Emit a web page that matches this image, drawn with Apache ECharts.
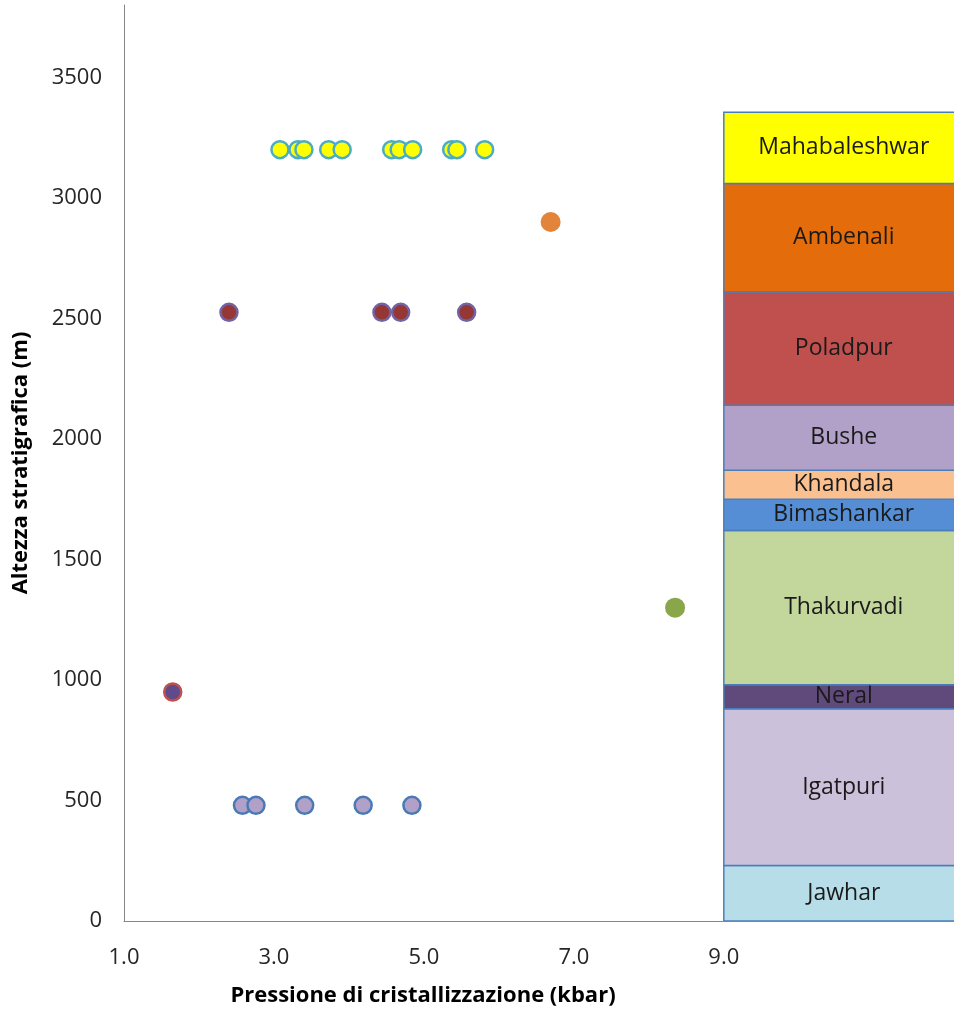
<!DOCTYPE html>
<html>
<head>
<meta charset="utf-8">
<title>Pressione di cristallizzazione vs altezza stratigrafica</title>
<script src="https://cdn.jsdelivr.net/npm/echarts@6/dist/echarts.min.js"></script>
<style>
  html, body { margin: 0; padding: 0; background: #ffffff; }
  #chart { width: 954px; height: 1012px; }
</style>
</head>
<body>
<div id="chart"></div>
<script>
// ---- data ----
const xTicks = [1, 3, 5, 7, 9];
const yTicks = [0, 500, 1000, 1500, 2000, 2500, 3000, 3500];

// crystallisation pressure (kbar) of the samples, grouped by formation; height in m
const mahabaleshwarP = [3.08, 3.32, 3.40, 3.73, 3.91, 4.57, 4.67, 4.85, 5.37, 5.44, 5.81];
const mahabaleshwarH = 3200;
const ambenaliP = [6.69];
const ambenaliH = 2900;
const poladpurP = [2.40, 4.44, 4.69, 5.57];
const poladpurH = 2525;
const thakurvadiP = [8.35];
const thakurvadiH = 1300;
const neralP = [1.65];
const neralH = 950;
const igatpuriP = [2.58, 2.76, 3.41, 4.19, 4.84];
const igatpuriH = 480;

// stratigraphic column: formation names with base and top heights (m)
const unitNames = ['Jawhar', 'Igatpuri', 'Neral', 'Thakurvadi', 'Bimashankar', 'Khandala', 'Bushe', 'Poladpur', 'Ambenali', 'Mahabaleshwar'];
const unitBase  = [0,   230, 880, 980,  1620, 1750, 1870, 2140, 2610, 3060];
const unitTop   = [230, 880, 980, 1620, 1750, 1870, 2140, 2610, 3060, 3355];

// ---- styling ----
const unitFill = {
  Jawhar: '#B7DEE8', Igatpuri: '#CCC1DA', Neral: '#604A7B', Thakurvadi: '#C3D69B',
  Bimashankar: '#558ED5', Khandala: '#FAC090', Bushe: '#B1A0C7', Poladpur: '#C0504D',
  Ambenali: '#E46C0A', Mahabaleshwar: '#FFFF00'
};
const FONT = '"Open Sans", "Noto Sans", sans-serif';
// the column spans 9 kbar to a little past the right edge of the plot
const COL_START = 9, COL_END = 12.2;
const X_MIN = 1, X_MAX = 12.07, Y_MAX = 3800;

function pts(xs, h) { return xs.map(x => [x, h]); }

const chart = echarts.init(document.getElementById('chart'), null, { renderer: 'canvas' });

function scatter(name, xs, h, fill, border, bw, size) {
  return {
    name, type: 'scatter', data: pts(xs, h), symbol: 'circle', symbolSize: size,
    itemStyle: { color: fill, borderColor: border, borderWidth: bw, opacity: 1 },
    emphasis: { disabled: true }, z: 5
  };
}

chart.setOption({
  animation: false,
  backgroundColor: '#ffffff',
  grid: { left: 124, right: 0, top: 5, bottom: 91, containLabel: false },
  xAxis: {
    type: 'value', min: X_MIN, max: X_MAX, interval: 2,
    name: 'Pressione di cristallizzazione (kbar)',
    nameLocation: 'middle', nameGap: 64,
    // the title sits centred under the 1–9 kbar span, left of the column
    nameTextStyle: { fontFamily: FONT, fontSize: 22, fontWeight: 'bold', color: '#000', padding: [0, 232, 0, 0] },
    axisLine: { show: true, lineStyle: { color: '#868686', width: 1 } },
    axisTick: { show: false },
    splitLine: { show: false },
    axisLabel: {
      customValues: xTicks, margin: 26,
      formatter: v => v.toFixed(1),
      fontFamily: FONT, fontSize: 22, color: '#262626'
    }
  },
  yAxis: {
    type: 'value', min: 0, max: Y_MAX, interval: 500,
    name: 'Altezza stratigrafica (m)',
    nameLocation: 'middle', nameGap: 92, nameRotate: 90,
    nameTextStyle: { fontFamily: FONT, fontSize: 22, fontWeight: 'bold', color: '#000' },
    axisLine: { show: true, lineStyle: { color: '#868686', width: 1 } },
    axisTick: { show: false },
    splitLine: { show: false },
    axisLabel: {
      customValues: yTicks, margin: 22,
      formatter: v => String(v),
      fontFamily: FONT, fontSize: 22, color: '#262626'
    }
  },
  series: [
    {
      name: 'Colonna stratigrafica',
      type: 'custom',
      coordinateSystem: 'cartesian2d',
      data: unitNames.map((n, i) => [COL_START, COL_END, unitBase[i], unitTop[i], n]),
      encode: { x: [0, 1], y: [2, 3] },
      renderItem: function (params, api) {
        const name = unitNames[params.dataIndex];
        const p0 = api.coord([api.value(0), api.value(3)]);
        const p1 = api.coord([api.value(1), api.value(2)]);
        return {
          type: 'group',
          children: [
            {
              type: 'rect',
              shape: { x: p0[0], y: p0[1], width: p1[0] - p0[0], height: p1[1] - p0[1] },
              style: { fill: unitFill[name], stroke: '#4A7EBB', lineWidth: 1.5 }
            },
            {
              type: 'text',
              x: (p0[0] + p1[0]) / 2, y: (p0[1] + p1[1]) / 2,
              style: {
                text: name, fontFamily: FONT, fontSize: 23, fill: '#1a1a1a',
                align: 'center', verticalAlign: 'middle'
              }
            }
          ]
        };
      },
      clip: true,
      z: 2
    },
    scatter('Igatpuri', igatpuriP, igatpuriH, '#B1A0C7', '#4A7AB5', 2.5, 17),
    scatter('Neral', neralP, neralH, '#5F4B8B', '#C0504D', 2.5, 17),
    scatter('Thakurvadi', thakurvadiP, thakurvadiH, '#8AA64A', '#8AA64A', 0, 20),
    scatter('Poladpur', poladpurP, poladpurH, '#953735', '#7462A3', 2.5, 17),
    scatter('Ambenali', ambenaliP, ambenaliH, '#E2843A', '#E2843A', 0, 20),
    scatter('Mahabaleshwar', mahabaleshwarP, mahabaleshwarH, '#FFFF00', '#4BACC6', 2.5, 17)
  ]
});
</script>
</body>
</html>
